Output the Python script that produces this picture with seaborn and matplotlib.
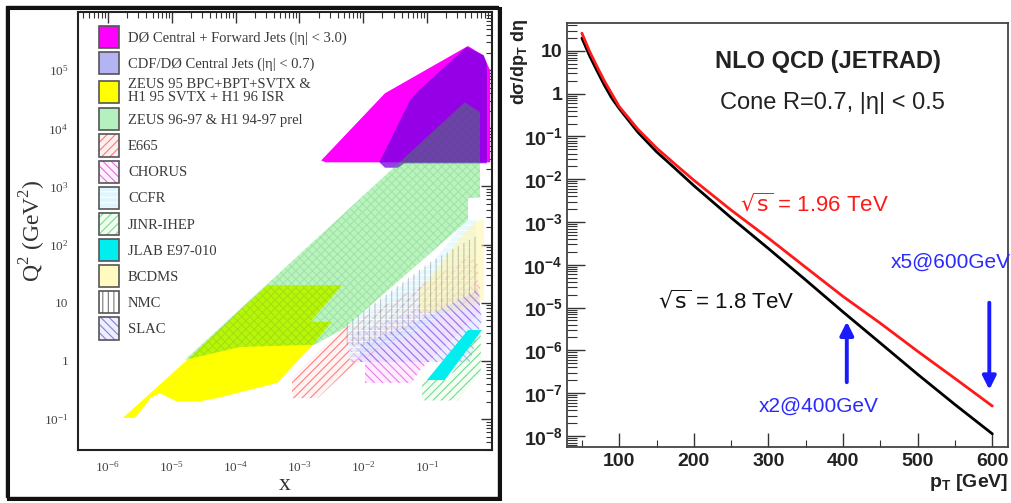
import numpy as np
import pandas as pd
import matplotlib
matplotlib.use("Agg")
import matplotlib.pyplot as plt
import seaborn as sns
from matplotlib.patches import Polygon, Patch, Rectangle
from matplotlib.legend_handler import HandlerTuple
from matplotlib.ticker import LogLocator, NullFormatter, MultipleLocator, FixedLocator

sns.set_theme(style="white")
plt.rcParams["font.family"] = ["Liberation Sans", "DejaVu Sans"]
plt.rcParams["mathtext.fontset"] = "dejavusans"
plt.rcParams["hatch.linewidth"] = 0.8

SERIF = ["Liberation Serif", "DejaVu Serif"]

# ---------------- kinematic coverage: vertices in (x, Q^2 [GeV^2]) ----------------
d0_fwd_x = [2.2e-3, 0.022, 0.44, 0.76, 0.98, 0.98, 2.6e-3]
d0_fwd_q2 = [2.8e3, 4.0e4, 2.6e5, 1.8e5, 1.0e5, 2.6e3, 2.6e3]

cdf_d0_x = [0.018, 0.022, 0.035, 0.044, 0.87, 0.87, 0.78, 0.42, 0.070, 0.054]
cdf_d0_q2 = [2.6e3, 2.1e3, 2.1e3, 2.5e3, 2.5e3, 1.3e5, 1.8e5, 2.5e5, 4.2e4, 3.0e4]

zeus95_x = [1.72e-6, 2.65e-6, 4.1e-6, 4.6e-6, 6.5e-6, 1.2e-5, 2.6e-5, 5.1e-5,
            4.5e-4, 1.63e-3, 3.2e-3, 1.48e-3, 4.7e-3, 3.1e-4, 1.74e-5]
zeus95_q2 = [0.105, 0.105, 0.19, 0.23, 0.28, 0.20, 0.20, 0.23,
             0.42, 1.9, 4.7, 4.7, 20.0, 20.0, 1.04]

hera9697_x = [1.6e-5, 1.17e-4, 1.74e-3, 5.2e-3, 0.44, 0.44, 0.68, 0.68, 0.39]
hera9697_q2 = [1.04, 1.74, 1.9, 3.7, 263.0, 630.0, 650.0, 1.9e4, 2.8e4]

e665_x = [7.7e-4, 4.4e-3, 0.111, 0.47, 0.63, 0.63, 0.111, 6.2e-3, 1.95e-3, 7.7e-4]
e665_q2 = [0.51, 3.4, 24.6, 66.0, 45.0, 11.3, 5.5, 0.76, 0.23, 0.23]

chorus_x = [6.2e-3, 0.078, 0.68, 0.68, 0.078, 0.058, 0.0107, 0.0107, 6.2e-3]
chorus_q2 = [2.8, 8.1, 22.0, 6.9, 0.70, 0.42, 0.42, 0.96, 0.96]

ccfr_x = [5.6e-3, 0.124, 0.42, 0.59, 0.59, 0.078, 6.2e-3]
ccfr_q2 = [4.15, 50.0, 263.0, 263.0, 16.6, 3.4, 0.96]

bcdms_x = [0.078, 0.078, 0.16, 0.39, 0.63, 0.78, 0.78, 0.33]
bcdms_q2 = [6.9, 16.6, 45.0, 164.0, 263.0, 263.0, 11.3, 6.9]

nmc_x = [5.2e-3, 5.2e-3, 0.111, 0.63, 0.68, 0.111, 0.0128]
nmc_q2 = [1.9, 4.15, 50.0, 146.0, 16.6, 6.2, 1.9]

slac_x = [8.9e-3, 8.9e-3, 0.078, 0.63, 0.73, 0.47]
slac_q2 = [0.96, 1.9, 5.1, 16.6, 5.1, 0.96]

jinr_x = [0.084, 0.084, 0.30, 0.70, 0.70, 0.21]
jinr_q2 = [0.47, 0.21, 0.21, 0.62, 3.4, 0.47]

jlab_x = [0.10, 0.19, 0.73, 0.44]
jlab_q2 = [0.47, 0.47, 3.4, 3.4]

legend_labels = [
    "DØ Central + Forward Jets (|η| < 3.0)",
    "CDF/DØ Central Jets (|η| < 0.7)",
    "ZEUS 95 BPC+BPT+SVTX &\nH1 95 SVTX + H1 96 ISR",
    "ZEUS 96-97 & H1 94-97 prel",
    "E665", "CHORUS", "CCFR", "JINR-IHEP", "JLAB E97-010", "BCDMS", "NMC", "SLAC",
]

# ---------------- NLO jet cross sections vs pT ----------------
pt_gev = [50, 60, 70, 80, 90, 100, 125, 150, 175, 200, 250, 300, 350, 400, 450, 500, 550, 600]
xsec_1800 = [20.0, 7.9, 3.5, 1.6, 0.79, 0.45, 0.126, 0.044, 0.0178, 7.1e-3, 1.26e-3, 2.4e-4,
             4.4e-5, 7.9e-6, 1.48e-6, 2.75e-7, 5.4e-8, 1.12e-8]
xsec_1960 = [26.0, 10.0, 4.4, 2.0, 1.0, 0.50, 0.148, 0.054, 0.0224, 9.5e-3, 1.9e-3, 4.2e-4,
             8.7e-5, 1.82e-5, 4.3e-6, 9.5e-7, 2.2e-7, 5.0e-8]

arrow_pt = [405, 596]
arrow_from = [1.8e-7, 1.3e-5]
arrow_to = [4.7e-6, 1.2e-7]

fig = plt.figure(figsize=(10.11, 5.03), dpi=100)

# boxed frame around the coverage panel
fig.add_artist(Rectangle((7.5 / 1011, 4.5 / 503), 492 / 1011, 491 / 503, transform=fig.transFigure,
                         fill=False, lw=2.2, edgecolor="#111111", zorder=-2))
fig.add_artist(Rectangle((6 / 1011, 6 / 503), 492 / 1011, 491 / 503, transform=fig.transFigure,
                         fill=False, lw=1.0, edgecolor="#111111", zorder=-1))

# ================= left: x-Q^2 coverage =================
ax1 = fig.add_axes([0.0772, 0.1054, 0.4095, 0.8708])
ax1.set_xscale("log")
ax1.set_yscale("log")
ax1.set_xlim(3.4e-7, 1.05)
ax1.set_ylim(0.0295, 1.0e6)


def region(ax, xs, qs, face, hatch=None, hcol="none", z=2):
    poly = Polygon(np.column_stack([xs, qs]), closed=True, facecolor=face,
                   edgecolor=hcol, hatch=hatch, linewidth=0, zorder=z)
    ax.add_patch(poly)


region(ax1, d0_fwd_x, d0_fwd_q2, "#ff00ff", z=2)
region(ax1, cdf_d0_x, cdf_d0_q2, (0.45, 0.0, 0.88, 0.75), z=2.1)
region(ax1, zeus95_x, zeus95_q2, "#ffff00", z=2)
region(ax1, hera9697_x, hera9697_q2, (0.07, 0.87, 0.13, 0.30), z=3)
region(ax1, hera9697_x, hera9697_q2, "none", "xxxx", (0.15, 0.35, 0.2, 0.12), z=3.05)

region(ax1, e665_x, e665_q2, (1.0, 0.85, 0.85, 0.30), "////", (1.0, 0.35, 0.35, 0.75), z=4)
region(ax1, chorus_x, chorus_q2, (1.0, 0.82, 1.0, 0.40), "\\\\\\\\", (0.88, 0.3, 0.88, 0.7), z=4.1)
region(ax1, ccfr_x, ccfr_q2, (0.82, 0.96, 1.0, 0.55), "---", (1.0, 1.0, 1.0, 0.9), z=4.2)
region(ax1, bcdms_x, bcdms_q2, (1.0, 0.96, 0.65, 0.55), z=4.3)
region(ax1, nmc_x, nmc_q2, "none", "|||", (0.3, 0.3, 0.3, 0.30), z=4.4)
region(ax1, slac_x, slac_q2, (0.82, 0.82, 1.0, 0.35), "\\\\\\\\", (0.4, 0.4, 0.95, 0.6), z=4.5)
region(ax1, jinr_x, jinr_q2, (0.85, 1.0, 0.85, 0.3), "////", (0.3, 0.8, 0.45, 0.75), z=4.6)
region(ax1, jlab_x, jlab_q2, "#00eeee", z=4.7)

legend_styles = [
    ("#ff00ff", None, "none"),
    ("#b4b4f5", None, "none"),
    ("#ffff00", None, "none"),
    ("#b4f0c0", None, "none"),
    ("#fff0f0", "////", "#ff7777"),
    ("#fff0ff", "\\\\\\\\", "#e070e0"),
    ("#dff6ff", "---", "#ffffff"),
    ("#effff0", "////", "#80d890"),
    ("#00eeee", None, "none"),
    ("#fffbc0", None, "none"),
    ("#ffffff", "|||", "#777777"),
    ("#eeeeff", "\\\\\\\\", "#8080e0"),
]
handles = []
for face, hatch, hcol in legend_styles:
    fill = Patch(facecolor=face, edgecolor=hcol, hatch=hatch, linewidth=0)
    box = Patch(facecolor="none", edgecolor="#555555", linewidth=1.2)
    handles.append((fill, box))
leg = ax1.legend(handles, legend_labels, handler_map={tuple: HandlerTuple(ndivide=1, pad=0)},
                 loc="upper left", bbox_to_anchor=(0.050, 0.968), frameon=False,
                 prop={"family": SERIF, "size": 10.5}, labelcolor="#3a3a3a",
                 handlelength=1.4, handleheight=1.95, handletextpad=0.6,
                 labelspacing=0.28, borderpad=0, borderaxespad=0)
for t in leg.get_texts():
    t.set_linespacing(1.0)

ax1.xaxis.set_major_locator(FixedLocator([1e-6, 1e-5, 1e-4, 1e-3, 1e-2, 1e-1]))
ax1.xaxis.set_minor_locator(LogLocator(base=10, subs=np.arange(2, 10), numticks=30))
ax1.yaxis.set_major_locator(FixedLocator([1e-1, 1, 10, 1e2, 1e3, 1e4, 1e5]))
ax1.yaxis.set_minor_locator(LogLocator(base=10, subs=np.arange(2, 10), numticks=30))
ax1.xaxis.set_minor_formatter(NullFormatter())
ax1.yaxis.set_minor_formatter(NullFormatter())
ax1.set_xticklabels([r"$\mathdefault{10^{-6}}$", r"$\mathdefault{10^{-5}}$", r"$\mathdefault{10^{-4}}$",
                     r"$\mathdefault{10^{-3}}$", r"$\mathdefault{10^{-2}}$", r"$\mathdefault{10^{-1}}$"],
                    family=SERIF, fontsize=9.5, color="#444444")
ax1.set_yticklabels([r"$\mathdefault{10^{-1}}$", "1", "10", r"$\mathdefault{10^{2}}$",
                     r"$\mathdefault{10^{3}}$", r"$\mathdefault{10^{4}}$", r"$\mathdefault{10^{5}}$"],
                    family=SERIF, fontsize=9.5, color="#444444")
ax1.tick_params(which="both", direction="in", top=True, right=True, color="#333333")
ax1.tick_params(which="major", length=8, width=1.0, pad=7)
ax1.tick_params(which="minor", length=4, width=0.8)
for s in ax1.spines.values():
    s.set_color("#222222")
    s.set_linewidth(1.5)
ax1.set_xlabel("x", family=SERIF, fontsize=17, color="#333333", labelpad=0)
ax1.set_ylabel(r"Q$^{\mathregular{2}}$ (GeV$^{\mathregular{2}}$)", family=SERIF, fontsize=17,
               color="#333333", labelpad=-3)

# ================= right: inclusive jet cross section =================
ax2 = fig.add_axes([0.5608, 0.1113, 0.4362, 0.8430])
ax2.set_yscale("log")
curves = pd.DataFrame({
    "pT": pt_gev + pt_gev,
    "xsec": xsec_1800 + xsec_1960,
    "energy": ["1.8 TeV"] * len(pt_gev) + ["1.96 TeV"] * len(pt_gev),
})
sns.lineplot(data=curves, x="pT", y="xsec", hue="energy",
             palette={"1.8 TeV": "#000000", "1.96 TeV": "#ff1a1a"},
             linewidth=2.0, legend=False, ax=ax2, zorder=3)
ax2.set_xlim(30, 621)
ax2.set_ylim(5.5e-9, 45)

ax2.xaxis.set_major_locator(MultipleLocator(100))
ax2.xaxis.set_minor_locator(MultipleLocator(50))
ytick_vals = [1e-8, 1e-7, 1e-6, 1e-5, 1e-4, 1e-3, 1e-2, 1e-1, 1, 10]
ytick_labs = [r"$\mathdefault{10^{-%d}}$" % k for k in range(8, 0, -1)] + ["1", "10"]
ax2.set_yticks(ytick_vals, ytick_labs, fontweight="bold", fontsize=14, color="#222222")
ax2.yaxis.set_minor_locator(LogLocator(base=10, subs=np.arange(2, 10), numticks=40))
ax2.yaxis.set_minor_formatter(NullFormatter())
ax2.set_xticks([100, 200, 300, 400, 500, 600], ["100", "200", "300", "400", "500", "600"],
               fontweight="bold", fontsize=14, color="#222222")
ax2.tick_params(which="both", direction="in", color="#333333", bottom=True, left=True)
ax2.tick_params(axis="y", which="major", length=13, width=1.0, pad=3)
ax2.tick_params(axis="y", which="minor", length=7, width=0.8)
ax2.tick_params(axis="x", which="major", length=10, width=1.0, pad=4)
ax2.tick_params(axis="x", which="minor", length=5, width=0.8)
for s in ax2.spines.values():
    s.set_color("#444444")
    s.set_linewidth(1.3)
ax2.set_xlabel(r"p$_{\mathregular{T}}$ [GeV]", fontweight="bold", fontsize=14, color="#222222",
               loc="right", labelpad=2)
ax2.set_ylabel(r"dσ/dp$_{\mathregular{T}}$ dη", fontweight="bold", fontsize=13,
               color="#222222", loc="top")
ax2.yaxis.set_label_coords(-0.083, 1.01)

ax2.text(0.592, 0.908, "NLO QCD (JETRAD)", transform=ax2.transAxes, ha="center", va="center",
         fontsize=17, fontweight="bold", color="#222222")
ax2.text(0.603, 0.811, "Cone R=0.7, |η| < 0.5", transform=ax2.transAxes, ha="center",
         va="center", fontsize=17, color="#222222")
ax2.text(362, 2.6e-3, r"$\sqrt{\mathrm{s}}$ = 1.96 TeV", ha="center", va="center", fontsize=16,
         color="#ff1a1a")
ax2.text(244, 1.4e-5, r"$\sqrt{\mathrm{s}}$ = 1.8 TeV", ha="center", va="center", fontsize=16,
         color="#111111")
ax2.text(544, 1.15e-4, "x5@600GeV", ha="center", va="center", fontsize=15, color="#2a2aff",
         clip_on=False)
ax2.text(368, 4.9e-8, "x2@400GeV", ha="center", va="center", fontsize=15, color="#2a2aff")
for xp, y0, y1 in zip(arrow_pt, arrow_from, arrow_to):
    ax2.annotate("", xy=(xp, y1), xytext=(xp, y0),
                 arrowprops=dict(arrowstyle="-|>", color="#1a1aff", lw=2.8, mutation_scale=20,
                                 shrinkA=0, shrinkB=0), zorder=4)

fig.savefig("out.png", dpi=100)
